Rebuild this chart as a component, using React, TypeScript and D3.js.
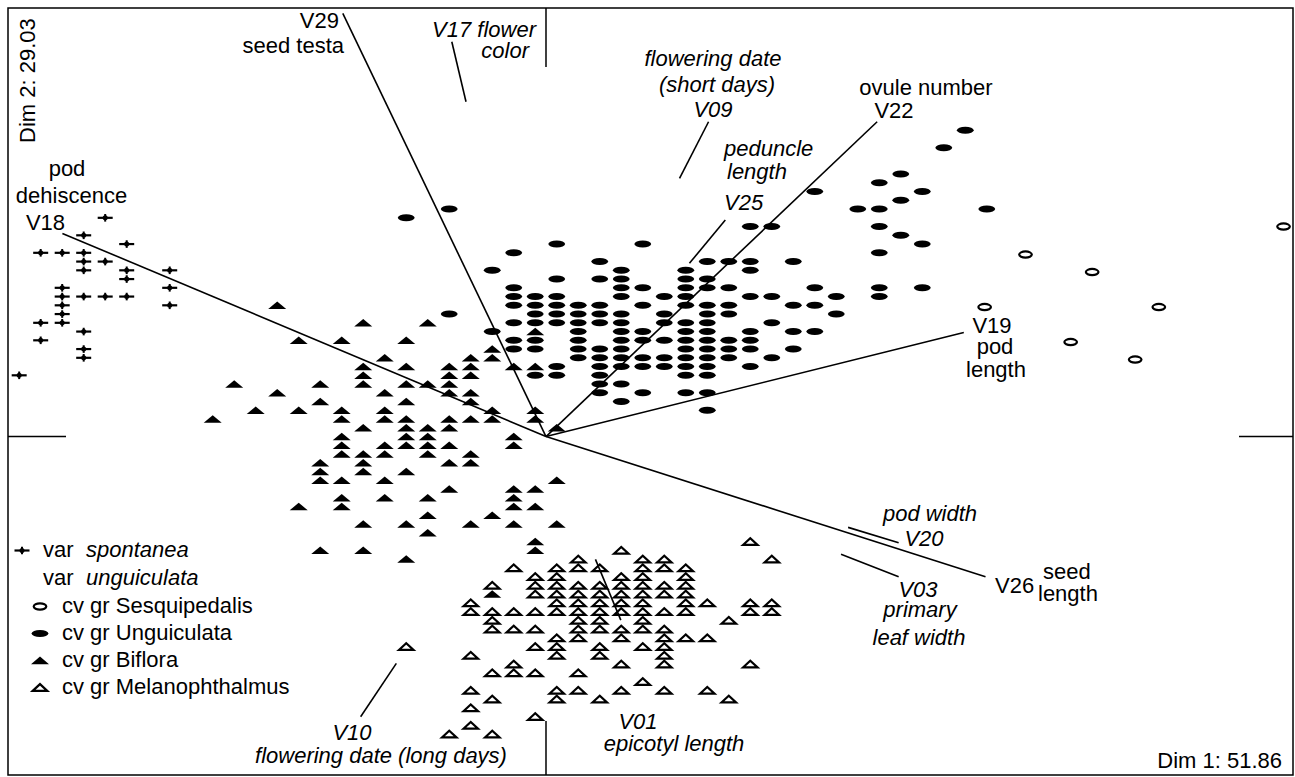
import React from "react";
import * as d3 from "d3";

// ---- Data (Dim 1 / Dim 2 scores), grouped by rows: [dim2, dim1 values] ----
const spontaneaRows: [number, number[]][] = [
  [1.25, [-2.05]],
  [1.15, [-2.15]],
  [1.1, [-1.95]],
  [1.05, [-2.35, -2.25, -2.15]],
  [1.0, [-2.15, -2.05]],
  [0.95, [-2.15, -1.95, -1.75]],
  [0.9, [-1.95]],
  [0.85, [-2.25, -1.75]],
  [0.8, [-2.25, -2.15, -2.05, -1.95]],
  [0.75, [-2.25, -1.75]],
  [0.7, [-2.25]],
  [0.65, [-2.35, -2.25]],
  [0.6, [-2.15]],
  [0.55, [-2.35]],
  [0.5, [-2.15]],
  [0.45, [-2.15]],
  [0.35, [-2.45]],
];

const sesquipedalisRows: [number, number[]][] = [
  [1.2, [3.43]],
  [1.04, [2.23]],
  [0.94, [2.54]],
  [0.74, [2.04, 2.85]],
  [0.54, [2.44]],
  [0.44, [2.74]],
];

const unguiculataRows: [number, number[]][] = [
  [1.75, [1.95]],
  [1.65, [1.85]],
  [1.5, [1.65]],
  [1.45, [1.55]],
  [1.4, [1.25, 1.75]],
  [1.35, [1.65]],
  [1.3, [-0.45, 1.45, 1.55, 2.05]],
  [1.25, [-0.65]],
  [1.2, [0.95, 1.05, 1.55]],
  [1.15, [1.65]],
  [1.1, [0.05, 0.45, 1.75]],
  [1.05, [-0.15, 1.55]],
  [1.0, [0.25, 0.75, 0.85, 0.95, 1.15]],
  [0.95, [-0.25, 0.35, 0.65, 0.95]],
  [0.9, [0.05, 0.25, 0.35, 0.65, 0.75]],
  [0.85, [-0.15, 0.35, 0.45, 0.65, 0.75, 0.85, 1.25, 1.55, 1.75]],
  [0.8, [-0.15, -0.05, 0.05, 0.35, 0.55, 0.65, 0.95, 1.05, 1.35, 1.55]],
  [0.75, [-0.15, -0.05, 0.05, 0.15, 0.25, 0.45, 0.65, 0.75, 0.85, 1.15, 1.25]],
  [0.7, [-0.45, -0.05, 0.05, 0.15, 0.25, 0.35, 0.55, 0.75, 0.85, 1.35]],
  [0.65, [-0.15, -0.05, 0.05, 0.15, 0.25, 0.35, 0.55, 0.65, 0.75, 1.05]],
  [0.6, [-0.25, 0.15, 0.35, 0.45, 0.65, 0.75, 0.95, 1.15, 1.25]],
  [0.55, [-0.15, -0.05, 0.15, 0.35, 0.45, 0.55, 0.65, 0.75, 0.85, 0.95]],
  [0.5, [-0.15, -0.05, 0.15, 0.25, 0.35, 0.65, 0.75, 0.85, 0.95, 1.15]],
  [0.45, [0.15, 0.25, 0.35, 0.45, 0.55, 0.65, 0.75, 0.85, 1.05]],
  [0.4, [0.05, 0.25, 0.35, 0.45, 0.55, 0.65, 0.75, 0.95]],
  [0.35, [-0.05, 0.05, 0.25, 0.65, 0.75]],
  [0.3, [0.25, 0.35]],
  [0.25, [0.25, 0.45, 0.65, 0.75]],
  [0.2, [0.35]],
  [0.15, [0.75]],
];

const bifloraRows: [number, number[]][] = [
  [0.75, [-1.25]],
  [0.65, [-0.85, -0.55]],
  [0.6, [-0.05]],
  [0.55, [-1.15, -0.95, -0.65]],
  [0.5, [-0.25]],
  [0.45, [-0.75, -0.35, -0.25]],
  [0.4, [-0.85, -0.65, -0.45, -0.35, -0.15, -0.05]],
  [0.35, [-0.85, -0.45, -0.35]],
  [0.3, [-1.45, -1.05, -0.85, -0.65, -0.55, -0.45]],
  [0.25, [-1.25, -0.75, -0.45, -0.35]],
  [0.2, [-1.05, -0.65, -0.35]],
  [0.15, [-1.35, -1.15, -0.95, -0.75, -0.25, -0.05]],
  [0.1, [-1.55, -0.95, -0.75, -0.65, -0.45, -0.35, -0.25, -0.05]],
  [0.05, [-0.85, -0.65, -0.55, -0.45, 0.05]],
  [0.0, [-0.95, -0.65, -0.55, -0.15]],
  [-0.05, [-0.95, -0.75, -0.65, -0.55, -0.45, -0.15]],
  [-0.1, [-0.95, -0.85, -0.75, -0.55, -0.35]],
  [-0.15, [-1.05, -0.85, -0.45, -0.35]],
  [-0.2, [-1.05, -0.85, -0.65]],
  [-0.25, [-1.05, -0.95, -0.75, 0.05]],
  [-0.3, [-0.45, -0.15, -0.05]],
  [-0.35, [-0.95, -0.75, -0.55, -0.15]],
  [-0.4, [-1.15, -0.95, -0.15, -0.05]],
  [-0.45, [-0.55, -0.25]],
  [-0.5, [-0.85, -0.65, -0.35, -0.15, 0.05]],
  [-0.55, [-0.55]],
  [-0.6, [-0.05]],
  [-0.65, [-1.05, -0.85, -0.05]],
  [-0.7, [-0.65]],
  [-0.9, [-0.25]],
];

const melanophthalmusRows: [number, number[]][] = [
  [-0.6, [0.95]],
  [-0.65, [0.35]],
  [-0.7, [0.15, 0.45, 0.55, 1.05]],
  [-0.75, [-0.15, 0.05, 0.15, 0.25, 0.45, 0.55, 0.65]],
  [-0.8, [-0.05, 0.05, 0.35, 0.45, 0.65]],
  [-0.85, [-0.25, -0.05, 0.05, 0.15, 0.25, 0.35, 0.45, 0.55, 0.65]],
  [-0.9, [-0.05, 0.05, 0.15, 0.25, 0.35, 0.45, 0.55, 0.65]],
  [-0.95, [-0.35, 0.05, 0.15, 0.25, 0.35, 0.45, 0.65, 0.75, 0.95, 1.05]],
  [-1.0, [-0.35, -0.25, -0.15, -0.05, 0.05, 0.15, 0.25, 0.35, 0.45, 0.55, 0.65, 0.95, 1.05]],
  [-1.05, [-0.25, 0.15, 0.25, 0.45, 0.85]],
  [-1.1, [-0.25, -0.15, -0.05, 0.15, 0.25, 0.35, 0.45, 0.55]],
  [-1.15, [0.05, 0.15, 0.35, 0.55, 0.65, 0.75]],
  [-1.2, [-0.65, -0.05, 0.05, 0.25, 0.45, 0.55]],
  [-1.25, [-0.35, 0.05, 0.25, 0.55]],
  [-1.3, [-0.15, 0.35, 0.55, 0.95]],
  [-1.35, [-0.25, -0.15, -0.05, 0.15]],
  [-1.4, [0.45]],
  [-1.45, [-0.35, 0.05, 0.15, 0.35, 0.55, 0.75]],
  [-1.5, [-0.25, 0.05, 0.25, 0.85]],
  [-1.55, [-0.35]],
  [-1.6, [-0.05]],
  [-1.65, [-0.35]],
  [-1.7, [-0.45, -0.25]],
];

// variable loadings (arrows from the origin)
const loadingNames = ["V29", "V18", "V22", "V19", "V26"];
const loadingDim1 = [-0.945, -2.249, 1.54, 1.943, 2.044];
const loadingDim2 = [2.418, 1.161, 1.799, 0.595, -0.801];

// label leader segments
const leaderNames = ["V17", "V09", "V25", "V20", "V03", "V01", "V10"];
const leaderFrom: [number, number][] = [
  [-0.438, 2.256], [0.756, 1.799], [0.834, 1.237], [1.405, -0.519],
  [1.372, -0.673], [0.23, -0.702], [-0.696, -1.296],
];
const leaderTo: [number, number][] = [
  [-0.372, 1.913], [0.621, 1.475], [0.667, 0.99], [1.64, -0.607],
  [1.64, -0.801], [0.348, -1.049], [-0.862, -1.601],
];

const dim1Domain: [number, number] = [-2.502, 3.474];
const dim2Domain: [number, number] = [-1.934, 2.449];

const legendItems = [
  { key: "plus", pre: "var", name: "spontanea", italic: true },
  { key: "none", pre: "var", name: "unguiculata", italic: true },
  { key: "openEllipse", pre: "", name: "cv gr Sesquipedalis", italic: false },
  { key: "ellipse", pre: "", name: "cv gr Unguiculata", italic: false },
  { key: "triangle", pre: "", name: "cv gr Biflora", italic: false },
  { key: "openTriangle", pre: "", name: "cv gr Melanophthalmus", italic: false },
];

type Lbl = { t: string; x: number; y: number; a: "start" | "middle" | "end"; i?: boolean };
const labels: Lbl[] = [
  { t: "V29", x: 339, y: 28, a: "end" },
  { t: "seed testa", x: 344, y: 53, a: "end" },
  { t: "V17 flower", x: 536, y: 37, a: "end", i: true },
  { t: "color", x: 529, y: 58, a: "end", i: true },
  { t: "pod", x: 67, y: 176, a: "middle" },
  { t: "dehiscence", x: 71.5, y: 203, a: "middle" },
  { t: "V18", x: 45.5, y: 230, a: "middle" },
  { t: "flowering date", x: 713, y: 66, a: "middle", i: true },
  { t: "(short days)", x: 717, y: 92, a: "middle", i: true },
  { t: "V09", x: 713, y: 117, a: "middle", i: true },
  { t: "peduncle", x: 724, y: 156, a: "start", i: true },
  { t: "length", x: 727, y: 179, a: "start", i: true },
  { t: "V25", x: 724, y: 210, a: "start", i: true },
  { t: "ovule number", x: 926, y: 95, a: "middle" },
  { t: "V22", x: 894, y: 118, a: "middle" },
  { t: "V19", x: 992, y: 333, a: "middle" },
  { t: "pod", x: 995, y: 354, a: "middle" },
  { t: "length", x: 996, y: 377, a: "middle" },
  { t: "pod width", x: 930, y: 521, a: "middle", i: true },
  { t: "V20", x: 924, y: 546, a: "middle", i: true },
  { t: "V03", x: 918, y: 597, a: "middle", i: true },
  { t: "primary", x: 920, y: 617, a: "middle", i: true },
  { t: "leaf width", x: 919, y: 645, a: "middle", i: true },
  { t: "V26", x: 995, y: 593, a: "start" },
  { t: "seed", x: 1043, y: 579, a: "start" },
  { t: "length", x: 1038, y: 601, a: "start" },
  { t: "V01", x: 638, y: 729, a: "middle", i: true },
  { t: "epicotyl length", x: 674, y: 751, a: "middle", i: true },
  { t: "V10", x: 352, y: 740, a: "middle", i: true },
  { t: "flowering date (long days)", x: 381, y: 763, a: "middle", i: true },
  { t: "Dim 1: 51.86", x: 1282, y: 768, a: "end" },
];

const W = 1295;
const H = 777;
const L = 8, T = 8, R = 1293, B = 775;
const FONT = "'Liberation Sans', Arial, Helvetica, sans-serif";

function flatten(rows: [number, number[]][]) {
  const out: { x: number; y: number }[] = [];
  rows.forEach(([y, xs]) => xs.forEach((x) => out.push({ x, y })));
  return out;
}

function Marker({ kind, cx, cy }: { kind: string; cx: number; cy: number }) {
  switch (kind) {
    case "plus":
      return (
        <g>
          <line x1={cx - 7.5} x2={cx + 7.5} y1={cy} y2={cy} stroke="#000" strokeWidth={2.2} />
          <line x1={cx} x2={cx} y1={cy - 3.8} y2={cy + 3.8} stroke="#000" strokeWidth={2} />
          <circle cx={cx} cy={cy} r={2.5} fill="#000" />
        </g>
      );
    case "ellipse":
      return <ellipse cx={cx} cy={cy} rx={8.4} ry={3.5} fill="#000" />;
    case "openEllipse":
      return <ellipse cx={cx} cy={cy} rx={6.3} ry={3.1} fill="#fff" stroke="#000" strokeWidth={2.2} />;
    case "triangle":
      return <path d={`M${cx - 9},${cy + 3.7}L${cx},${cy - 3.9}L${cx + 9},${cy + 3.7}Z`} fill="#000" />;
    case "openTriangle":
      return (
        <path
          d={`M${cx - 7.3},${cy + 3.4}L${cx},${cy - 3.4}L${cx + 7.3},${cy + 3.4}Z`}
          fill="#fff"
          stroke="#000"
          strokeWidth={2.2}
          strokeLinejoin="miter"
        />
      );
    default:
      return null;
  }
}

export default function App() {
  const x = d3.scaleLinear().domain(dim1Domain).range([L, R]);
  const y = d3.scaleLinear().domain(dim2Domain).range([B, T]);
  const x0 = x(0);
  const y0 = y(0);

  const groups = [
    { kind: "plus", pts: flatten(spontaneaRows) },
    { kind: "openEllipse", pts: flatten(sesquipedalisRows) },
    { kind: "ellipse", pts: flatten(unguiculataRows) },
    { kind: "triangle", pts: flatten(bifloraRows) },
    { kind: "openTriangle", pts: flatten(melanophthalmusRows) },
  ];

  const line = d3.line<[number, number]>().x((d) => x(d[0])).y((d) => y(d[1]));

  return (
    <svg
      width={W}
      height={H}
      style={{ position: "absolute", left: 0, top: 0, background: "#fff" }}
      fontFamily={FONT}
    >
      <rect x={L} y={T} width={R - L} height={B - T} fill="#fff" stroke="#000" strokeWidth={1.5} />
      {/* axis ticks through the origin */}
      <line x1={L} x2={66} y1={y0} y2={y0} stroke="#000" strokeWidth={1.5} />
      <line x1={1239} x2={R} y1={y0} y2={y0} stroke="#000" strokeWidth={1.5} />
      <line x1={x0} x2={x0} y1={T} y2={67} stroke="#000" strokeWidth={1.5} />
      <line x1={x0} x2={x0} y1={721} y2={B} stroke="#000" strokeWidth={1.5} />

      {groups.map((g) =>
        g.pts.map((p, i) => <Marker key={g.kind + i} kind={g.kind} cx={x(p.x)} cy={y(p.y)} />)
      )}

      {loadingNames.map((n, i) => (
        <path
          key={n}
          d={line([[0, 0], [loadingDim1[i], loadingDim2[i]]]) || ""}
          stroke="#000"
          strokeWidth={1.6}
          fill="none"
        />
      ))}
      {leaderNames.map((n, i) => (
        <path key={n} d={line([leaderFrom[i], leaderTo[i]]) || ""} stroke="#000" strokeWidth={1.6} fill="none" />
      ))}

      {labels.map((l, i) => (
        <text
          key={i}
          x={l.x}
          y={l.y}
          textAnchor={l.a}
          fontSize={22}
          fontStyle={l.i ? "italic" : "normal"}
          fill="#000"
        >
          {l.t}
        </text>
      ))}
      <text x={35} y={143} fontSize={22} transform="rotate(-90 35 143)" fill="#000">
        Dim 2: 29.03
      </text>

      {/* legend */}
      {legendItems.map((it, i) => {
        const baseY = i === 0 ? 557 : i === 1 ? 585 : 613 + (i - 2) * 27;
        const mx = it.key === "plus" ? 22 : 40;
        return (
          <g key={it.name}>
            <Marker kind={it.key} cx={mx} cy={baseY - 6.5} />
            {it.pre ? (
              <>
                <text x={43} y={baseY} fontSize={22}>{it.pre}</text>
                <text x={86} y={baseY} fontSize={22} fontStyle="italic">{it.name}</text>
              </>
            ) : (
              <text x={62} y={baseY} fontSize={22}>{it.name}</text>
            )}
          </g>
        );
      })}
    </svg>
  );
}
